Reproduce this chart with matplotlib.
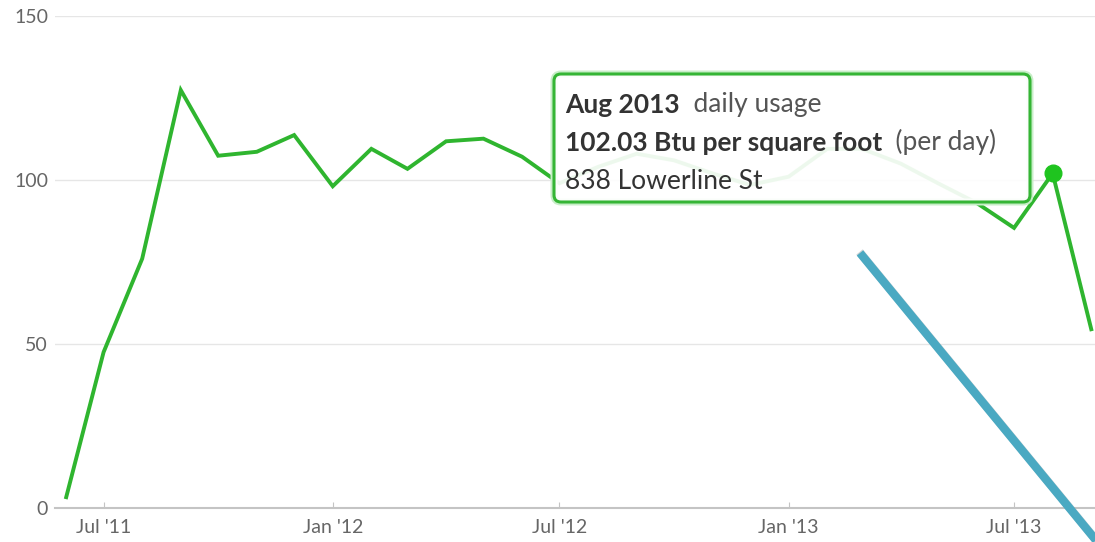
import numpy as np
import pandas as pd
import matplotlib
matplotlib.use("Agg")
import matplotlib.pyplot as plt
import matplotlib.dates as mdates
from matplotlib.patches import FancyBboxPatch
from matplotlib.lines import Line2D
from matplotlib.text import Annotation
from matplotlib.transforms import IdentityTransform

plt.rcParams['font.family'] = ['Lato', 'DejaVu Sans']

# monthly daily usage, Btu per square foot (per day)
months = pd.date_range("2011-06-01", "2013-09-01", freq="MS")
usage = [3.3, 47.5, 76, 127.4, 107.4, 108.6, 113.7, 98.1, 109.5, 103.4,
         111.8, 112.6, 107.1, 99, 104, 108, 106, 102, 98.5, 101,
         109.5, 109.5, 105, 99, 93, 85.4, 102.03, 54.5]
y_ticks = [0, 50, 100, 150]
hover_month = "2013-08-01"
hover_value = 102.03
address = "838 Lowerline St"

green = "#2fb52f"

fig = plt.figure(figsize=(10.95, 5.42), dpi=100)
ax = fig.add_axes([55 / 1095, 34 / 542, 1040 / 1095, 492 / 542])

ax.plot(months, usage, color=green, lw=2.8, solid_joinstyle="miter", zorder=3)
ax.plot(pd.Timestamp(hover_month), hover_value, "o", color="#1fc41f",
        ms=12, zorder=4)

ax.set_ylim(0, 150)
ax.set_xlim(pd.Timestamp("2011-05-23"), pd.Timestamp("2013-09-04"))
ax.set_yticks(y_ticks)
ax.yaxis.grid(True, color="#e6e6e6", lw=1)
ax.set_axisbelow(True)

ax.xaxis.set_major_locator(mdates.MonthLocator(bymonth=[1, 7]))
ax.xaxis.set_major_formatter(mdates.DateFormatter("%b '%y"))

for s in ["top", "right", "left"]:
    ax.spines[s].set_visible(False)
ax.spines["bottom"].set_color("#c4c4c4")
ax.spines["bottom"].set_linewidth(1.5)
ax.tick_params(axis="x", direction="in", length=4, color="#c4c4c4",
               labelsize=14, labelcolor="#666666", pad=8)
ax.tick_params(axis="y", length=0, labelsize=14, labelcolor="#666666", pad=5)

# tooltip box (pixel coordinates)
px = IdentityTransform()
x0, y0, w, h = 554, 542 - 202, 476, 128
glow = FancyBboxPatch((x0, y0), w, h, boxstyle="round,pad=0,rounding_size=7",
                      transform=px, fc="none", ec="#c8eec8", lw=5, zorder=5)
box = FancyBboxPatch((x0, y0), w, h, boxstyle="round,pad=0,rounding_size=7",
                     transform=px, fc=(1, 1, 1, 0.92), ec="#35b535", lw=2.2,
                     zorder=6)
fig.add_artist(glow)
fig.add_artist(box)

tx = 565
fs = 19
dark = "#333333"
gray = "#555555"
t1 = fig.text(tx, 542 - 113, pd.Timestamp(hover_month).strftime("%b %Y"),
              transform=px, fontsize=fs, fontweight="bold", color=dark,
              zorder=7)
fig.add_artist(Annotation("  daily usage", xy=(1, 0), xycoords=t1,
                          fontsize=fs, color=gray, va="bottom", zorder=7))
t2 = fig.text(tx, 542 - 151, f"{hover_value:.2f} Btu per square foot",
              transform=px, fontsize=fs, fontweight="bold", color=dark,
              zorder=7)
fig.add_artist(Annotation("  (per day)", xy=(1, 0), xycoords=t2,
                          fontsize=fs, color=gray, va="bottom", zorder=7))
fig.text(tx, 542 - 189, address, transform=px, fontsize=fs, color=dark,
         zorder=7)

# blue pointer line drawn over the chart
pointer_x = [860 / 1095, 1099 / 1095]
pointer_y = [1 - 253 / 542, 1 - 544 / 542]
fig.add_artist(Line2D([p + 0.002 for p in pointer_x],
                      [p - 0.004 for p in pointer_y],
                      color="#9aa8ad", lw=6, alpha=0.5, zorder=8))
fig.add_artist(Line2D(pointer_x, pointer_y, color="#4aa9c2", lw=6,
                      solid_capstyle="butt", zorder=9))

fig.savefig("out.png", dpi=100)
